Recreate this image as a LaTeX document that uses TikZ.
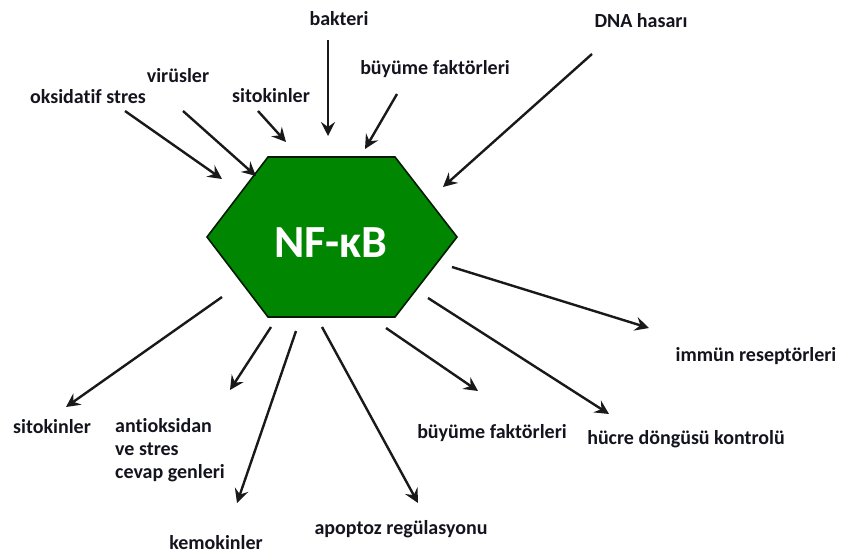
\documentclass[tikz,border=0pt]{standalone}
\usepackage{fontspec}
\setmainfont{Carlito}[Ligatures=NoCommon]
\usetikzlibrary{arrows.meta}
\definecolor{nfgreen}{RGB}{0,134,0}
\definecolor{txt}{RGB}{20,20,30}
\tikzset{
  lbl/.style={font=\bfseries\fontsize{20}{23}\selectfont, text=txt, inner sep=0pt},
  arr/.style={line width=2.4pt, draw=black!90, -{Stealth[length=14pt,width=14pt,inset=5pt]}},
}
\begin{document}
\begin{tikzpicture}[x=1pt,y=-1pt]
\useasboundingbox (0,0) rectangle (842,554);
% hexagon
\draw[fill=nfgreen, draw=black!80!nfgreen, line width=1.6pt]
  (207,237) -- (268,157) -- (395,157) -- (457,237) -- (395,317) -- (268,317) -- cycle;
\node (nfkb) [font=\bfseries\fontsize{46}{50}\selectfont, text=white, inner sep=0pt] at (331,243) {NF-κB};

% labels (incoming)
\node[lbl] (oks) at (88,97) {oksidatif stres};
\node[lbl] (vir) at (178,76) {virüsler};
\node[lbl] (sit1) at (271,96) {sitokinler};
\node[lbl] (bak) at (339,19) {bakteri};
\node[lbl] (buy1) at (435,69) {büyüme faktörleri};
\node[lbl] (dna) at (641,21) {DNA hasarı};

% labels (outgoing)
\node[lbl] (sit2) at (52,427) {sitokinler};
\node[lbl, anchor=north west, align=left] (ant) at (115,418) {antioksidan\\ve stres\\cevap genleri};
\node[lbl] (kem) at (216,543) {kemokinler};
\node[lbl] (apo) at (401,529) {apoptoz regülasyonu};
\node[lbl] (buy2) at (492,433) {büyüme faktörleri};
\node[lbl] (huc) at (686,439) {hücre döngüsü kontrolü};
\node[lbl] (imm) at (756,356) {immün reseptörleri};

% arrow coordinates
\coordinate (a1s) at (125,111); \coordinate (a1e) at (222,179);
\coordinate (a2s) at (183,111); \coordinate (a2e) at (256,176);
\coordinate (a3s) at (258,111); \coordinate (a3e) at (286,142);
\coordinate (a4s) at (328,40);  \coordinate (a4e) at (328,136);
\coordinate (a5s) at (397,94);  \coordinate (a5e) at (365,149);
\coordinate (a6s) at (592,54);  \coordinate (a6e) at (443,187);

\coordinate (b1s) at (222,297); \coordinate (b1e) at (66,407);
\coordinate (b2s) at (271,327); \coordinate (b2e) at (230,390);
\coordinate (b3s) at (296,331); \coordinate (b3e) at (237,503);
\coordinate (b4s) at (322,327); \coordinate (b4e) at (418,503);
\coordinate (b5s) at (386,328); \coordinate (b5e) at (478,391);
\coordinate (b6s) at (428,298); \coordinate (b6e) at (609,414);
\coordinate (b7s) at (452,267); \coordinate (b7e) at (649,328);

\foreach \s/\e in {a1s/a1e,a2s/a2e,a3s/a3e,a4s/a4e,a5s/a5e,a6s/a6e,
                   b1s/b1e,b2s/b2e,b3s/b3e,b4s/b4e,b5s/b5e,b6s/b6e,b7s/b7e}
  \draw[arr] (\s) -- (\e);
\end{tikzpicture}
\end{document}
